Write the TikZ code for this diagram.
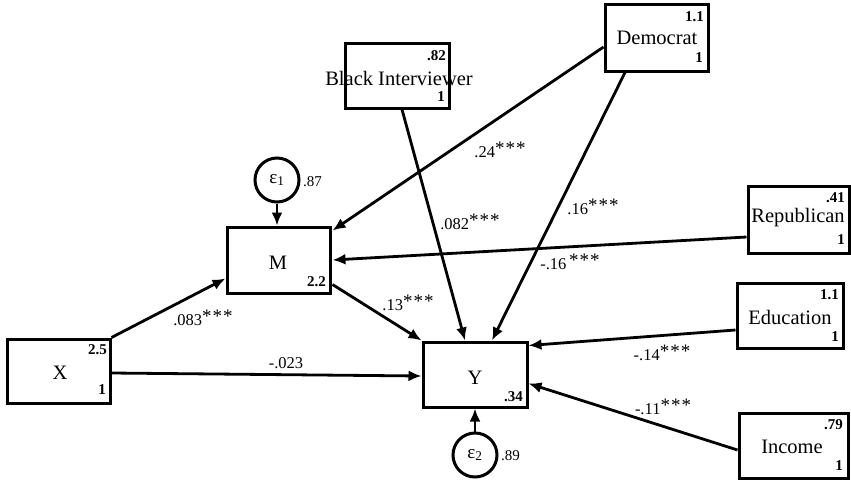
\documentclass[tikz,border=0pt]{standalone}
\usepackage{fontspec}
\setmainfont{Liberation Serif}
\usetikzlibrary{arrows.meta,calc}
\newcommand\sigstars{\raisebox{3.5pt}{\fontsize{19}{19}\selectfont*\kern1pt*\kern1pt*}}
\begin{document}
\begin{tikzpicture}[x=1pt,y=-1pt,
  box/.style={draw,line width=3pt,rectangle,inner sep=0pt},
  err/.style={draw,line width=3pt,circle,inner sep=0pt,minimum size=44,font=\fontsize{19}{19}\selectfont},
  main/.style={inner sep=0pt,font=\fontsize{20.5}{20.5}\selectfont},
  num/.style={inner sep=0pt,font=\fontsize{15}{15}\selectfont\bfseries},
  var/.style={inner sep=0pt,font=\fontsize{15}{15}\selectfont},
  plab/.style={inner sep=0pt,font=\fontsize{16.5}{16.5}\selectfont},
  arr/.style={line width=2.8pt,-{Latex[length=13pt,width=11pt]}}]
\useasboundingbox (0,0) rectangle (851,480);
% boxes
\node[box,minimum width=104,minimum height=65] (bi) at (397,75.5) {};
\node[main] (bit) at (399,78) {Black Interviewer};
\node[num,anchor=east] (biv) at (446,56) {.82};
\node[num,anchor=east] (bil) at (445,97) {1};

\node[box,minimum width=103,minimum height=67] (dem) at (656.5,37.5) {};
\node[main] (demt) at (657,38) {Democrat};
\node[num,anchor=east] (demv) at (704,17) {1.1};
\node[num,anchor=east] (deml) at (703,58) {1};

\node[box,minimum width=101,minimum height=67] (rep) at (798.5,219.5) {};
\node[main] (rept) at (798,218) {Republican};
\node[num,anchor=east] (repv) at (845,198) {.41};
\node[num,anchor=east] (repl) at (845,240) {1};

\node[box,minimum width=106,minimum height=65] (edu) at (790,315.5) {};
\node[main] (edut) at (790,317) {Education};
\node[num,anchor=east] (eduv) at (839,295) {1.1};
\node[num,anchor=east] (edul) at (839,337) {1};

\node[box,minimum width=109,minimum height=65] (inc) at (793.5,445.5) {};
\node[main] (inct) at (792,447) {Income};
\node[num,anchor=east] (incv) at (843,425) {.79};
\node[num,anchor=east] (incl) at (843,466) {1};

\node[box,minimum width=103,minimum height=66] (m) at (278.5,260) {};
\node[main] (mt) at (278,263) {M};
\node[num,anchor=east] (mv) at (326,282) {2.2};

\node[box,minimum width=103,minimum height=64] (x) at (58.5,371) {};
\node[main] (xt) at (60,373) {X};
\node[num,anchor=east] (xv) at (107,350) {2.5};
\node[num,anchor=east] (xl) at (106,390) {1};

\node[box,minimum width=104,minimum height=65] (y) at (475,374.5) {};
\node[main] (yt) at (475,378) {Y};
\node[num,anchor=east] (yv) at (523,397) {.34};

% error terms
\node[err] (e1) at (277,180) {ε\textsubscript{1}};
\node[var,anchor=west] (e1v) at (303,182) {.87};
\node[err] (e2) at (475,455) {ε\textsubscript{2}};
\node[var,anchor=west] (e2v) at (501,456) {.89};

% paths
\draw[arr] (e1) -- (e1 |- m.north);
\draw[arr] (e2) -- (e2 |- y.south);
\draw[arr] (x.north east) -- ($(m.south west)+(0,-16)$);
\draw[arr] ($(x.east)+(0,2)$) -- ($(y.west)+(0,1.5)$);
\draw[arr] ($(m.south east)+(1,-10)$) -- (y.north west);
\draw[arr] ($(bi.south)+(5,0)$) -- ($(y.north)+(-10,0)$);
\draw[arr] ($(dem.west)+(0,9.5)$) -- ($(m.north east)+(1,5)$);
\draw[arr] ($(dem.south)+(-31.5,0)$) -- ($(y.north)+(17,0)$);
\draw[arr] ($(rep.west)+(0,17.5)$) -- ($(m.east)+(1,0)$);
\draw[arr] ($(edu.west)+(0,14.5)$) -- ($(y.north east)+(0,5)$);
\draw[arr] ($(inc.west)+(0,4.5)$) -- ($(y.east)+(0,9)$);

% path labels
\node[plab] (l24) at (500,150) {.24\sigstars};
\node[plab] (l082) at (470,222) {.082\sigstars};
\node[plab] (l16) at (593,207) {.16\sigstars};
\node[plab] (lm16) at (570,262) {-.16\,\sigstars};
\node[plab] (l13) at (408,303) {.13\sigstars};
\node[plab] (l083) at (203,318) {.083\sigstars};
\node[plab] (l023) at (286,363) {-.023};
\node[plab] (l14) at (662,353) {-.14\sigstars};
\node[plab] (l11) at (663,407) {-.11\sigstars};
\end{tikzpicture}
\end{document}
